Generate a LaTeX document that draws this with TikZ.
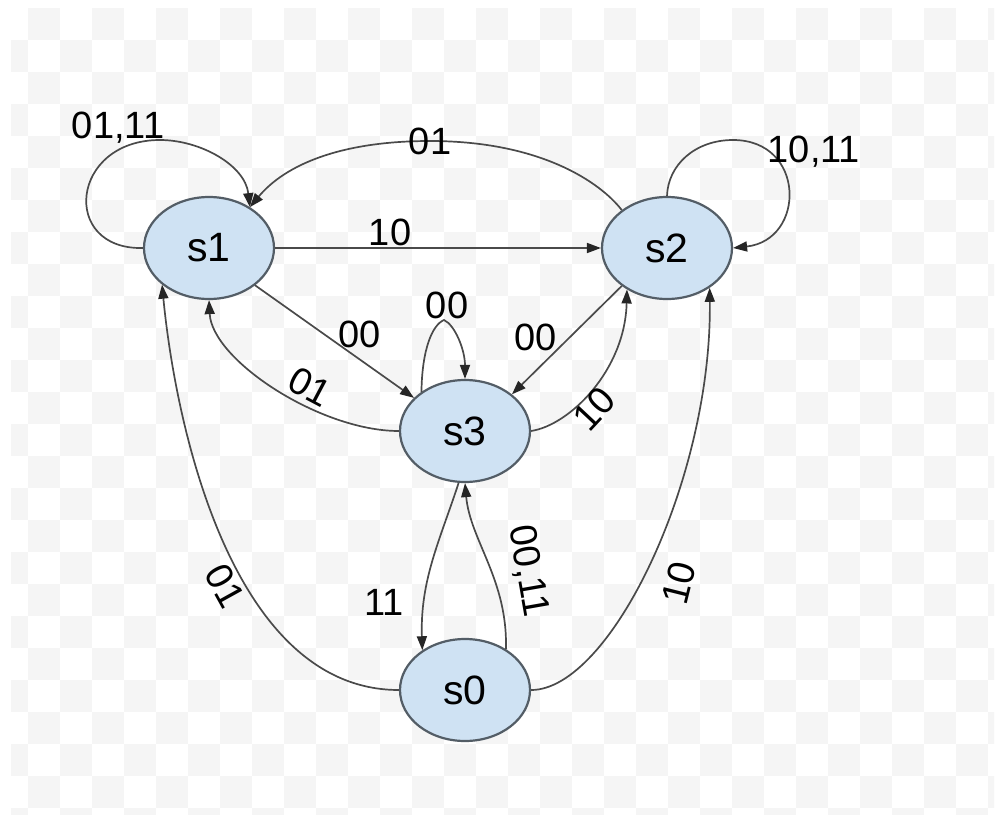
\documentclass[tikz,border=0pt]{standalone}
\usepackage{fontspec}
\setmainfont{Liberation Sans}
\usetikzlibrary{shapes.geometric,arrows.meta}
\definecolor{ellfill}{HTML}{CFE2F3}
\definecolor{ellline}{HTML}{535D66}
\definecolor{edgecol}{HTML}{4A4A4A}
\definecolor{chk}{HTML}{F5F5F5}
\begin{document}
\begin{tikzpicture}[x=1pt,y=-1pt,
  state/.style={ellipse, draw=ellline, line width=2.2pt, fill=ellfill,
    minimum width=130pt, minimum height=102pt, inner sep=0pt,
    font=\fontsize{41}{46}\selectfont},
  lbl/.style={font=\fontsize{38}{42}\selectfont, inner sep=2pt, text=black},
  tr/.style={draw=edgecol, line width=1.7pt,
    -{Triangle[length=14pt,width=10pt,color=black!85]}},
]
\fill[white] (0,0) rectangle (1003,822);
\begin{scope}
  \clip (11,8) rectangle (994,814);
  \foreach \i in {0,...,31}{
    \foreach \j in {0,...,25}{
      \pgfmathtruncatemacro{\chkodd}{mod(\i+\j,2)}
      \ifnum\chkodd=1 \fill[chk] ({-4+32*\i},{8+32*\j}) rectangle ++(32,32);\fi
    }}
\end{scope}
\useasboundingbox (0,0) rectangle (1003,822);

\node[state] (s1) at (209,248) {s1};
\node[state] (s2) at (667,248) {s2};
\node[state] (s3) at (465,431) {s3};
\node[state] (s0) at (465,690) {s0};

% s1 self loop
\draw[tr] (s1.west) .. controls (60,250) and (70,140) .. (160,140)
  node[lbl, anchor=base east, inner sep=0pt, xshift=5pt, yshift=2pt] {01,11}
  .. controls (200,140) and (245,165) .. (s1.45);
% s1 -> s2
\draw[tr] (s1.east) -- node[lbl, pos=0.353, yshift=16pt] {10} (s2.west);
% s2 -> s1
\draw[tr] (s2.140) .. controls (600,182) and (540,141) .. (430,141)
  node[lbl, inner sep=0pt] {01}
  .. controls (340,141) and (285,165) .. (s1.45);
% s2 self loop
\draw[tr] (s2.north) .. controls (668,165) and (695,140) .. (733,140)
  node[lbl, anchor=base west, inner sep=0pt, xshift=34pt, yshift=-22pt] {10,11}
  .. controls (806,140) and (806,240) .. (s2.east);
% s1 -> s3
\draw[tr] (s1.-39) -- node[lbl, pos=0.585, xshift=11.8pt, yshift=16.7pt] {00} (s3.147);
% s3 self loop
\draw[tr] (s3.138) .. controls (422,350) and (432,325) .. (444,320)
  node[lbl, anchor=south, inner sep=0pt, xshift=3pt] {00}
  .. controls (455,325) and (465,350) .. (s3.north);
% s2 -> s3
\draw[tr] (s2.220) -- node[lbl, pos=0.631, xshift=-17.3pt, yshift=17.4pt] {00} (s3.38);
% s3 -> s2
\draw[tr] (s3.east) .. controls (570,425) and (625,370) ..
  node[lbl, pos=0.42, sloped, below, inner sep=0pt] {10} (s2.226);
% s3 -> s1
\draw[tr] (s3.west) .. controls (320,431) and (212,360) ..
  node[lbl, pos=0.39, sloped, above, inner sep=4pt] {01} (s1.south);
% s0 -> s1
\draw[tr] (s0.west) .. controls (230,690) and (175,420) ..
  node[lbl, pos=0.42, sloped, below, inner sep=4pt] {01} (s1.218);
% s0 -> s2
\draw[tr] (s0.east) .. controls (610,690) and (712,480) ..
  node[lbl, pos=0.47, rotate=76, below=19pt] {10} (s2.-43);
% s3 -> s0
\draw[tr] (s3.263) .. controls (440,540) and (420,580) ..
  node[lbl, pos=0.75, left=18pt] {11} (s0.137);
% s0 -> s3
\draw[tr] (s0.45) .. controls (508,580) and (470,540) ..
  node[lbl, pos=0.4, rotate=-80, above=16pt] {00,11} (s3.south);
\end{tikzpicture}
\end{document}
